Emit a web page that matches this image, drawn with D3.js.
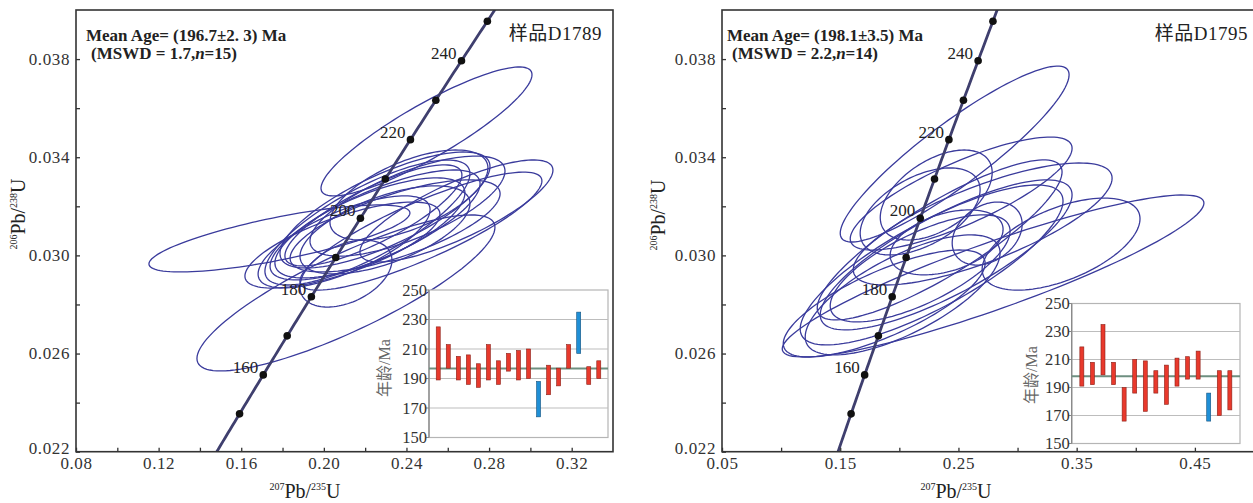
<!DOCTYPE html>
<html><head><meta charset="utf-8">
<script src="https://cdn.jsdelivr.net/npm/d3@7"></script>
<style>body{margin:0;background:#fff;} svg{display:block}</style>
</head><body>
<svg id="c" width="1253" height="503"></svg>
<script>
// ---------- DATA ----------
const lambda238 = 1.55125e-4, lambda235 = 9.8485e-4; // decay constants per Ma
const concordiaMarkerAges = [150,160,170,180,190,200,210,220,230,240,250];
const concordiaLabelAges = [160,180,200,220,240];

const xTicksD1789 = [0.08,0.10,0.12,0.14,0.16,0.18,0.20,0.22,0.24,0.26,0.28,0.30,0.32];
const xLabelsD1789 = [0.08,0.12,0.16,0.20,0.24,0.28,0.32];
const xTicksD1795 = [0.05,0.10,0.15,0.20,0.25,0.30,0.35,0.40,0.45];
const xLabelsD1795 = [0.05,0.15,0.25,0.35,0.45];
const yTicks = [0.022,0.024,0.026,0.028,0.030,0.032,0.034,0.036,0.038];
const yLabels = [0.022,0.026,0.030,0.034,0.038];
const insetTicks = [150,170,190,210,230,250];

// [207Pb/235U, half-width, 206Pb/238U, half-height, rho]
const ellipsesD1789 = [
  [0.2497,0.05108,0.03505,0.002628,0.88],
  [0.1785,0.06318,0.03069,0.001365,0.76],
  [0.2107,0.07214,0.02847,0.003179,0.84],
  [0.2107,0.02227,0.02926,0.001365,0.40],
  [0.2642,0.04672,0.03181,0.002078,0.80],
  [0.2470,0.05858,0.03099,0.002404,0.85],
  [0.2211,0.04963,0.03134,0.002547,0.78],
  [0.2248,0.05084,0.03124,0.002241,0.75],
  [0.2223,0.04600,0.03112,0.002038,0.70],
  [0.2296,0.05084,0.03185,0.002364,0.75],
  [0.2345,0.05084,0.03120,0.001875,0.70],
  [0.2296,0.04115,0.03104,0.001793,0.60],
  [0.2098,0.04164,0.03055,0.001875,0.70],
  [0.2240,0.04285,0.03163,0.002058,0.80],
  [0.2090,0.04721,0.03042,0.001752,0.72],
  [0.2405,0.04721,0.03201,0.002038,0.70],
  [0.2412,0.03825,0.03246,0.001834,0.60]
];
const ellipsesD1795 = [
  [0.2468,0.09679,0.03413,0.003586,0.90],
  [0.2793,0.17836,0.02916,0.003301,0.90],
  [0.3368,0.06678,0.03046,0.001875,0.55],
  [0.2523,0.09383,0.03252,0.002302,0.80],
  [0.2705,0.10947,0.03128,0.002486,0.75],
  [0.2341,0.10355,0.03063,0.003260,0.85],
  [0.2396,0.10651,0.03002,0.003056,0.80],
  [0.2273,0.11116,0.02961,0.003260,0.80],
  [0.2743,0.02959,0.03089,0.001284,0.30],
  [0.2400,0.04776,0.03053,0.001324,0.40],
  [0.2312,0.04734,0.03246,0.001834,0.50],
  [0.2176,0.05072,0.03179,0.001773,0.50],
  [0.1872,0.08538,0.02804,0.002180,0.75],
  [0.2028,0.08242,0.02839,0.002445,0.70],
  [0.2176,0.07608,0.02947,0.002180,0.70]
];

// spot ages [low, high, used(1)/rejected(0)]
const spotAgesD1789 = [[189,225,1],[197,213,1],[189,205,1],[186,206,1],[184,200,1],[189,213,1],
  [186,202,1],[195,207,1],[189,209,1],[190,210,1],[164,188,0],[179,199,1],[185,197,1],[197,213,1],
  [207,235,0],[186,198,1],[190,202,1]];
const spotAgesD1795 = [[191,219,1],[192,208,1],[199,235,1],[192,208,1],[166,190,1],[186,210,1],
  [173,209,1],[186,202,1],[178,206,1],[191,211,1],[196,212,1],[196,216,1],[166,186,0],[170,202,1],[174,202,1]];
const meanAgeD1789 = 196.7, meanAgeD1795 = 198.1;

const titleD1789 = ["Mean Age= (196.7\u00b12. 3) Ma", "1.7", "15", "样品D1789"];
const titleD1795 = ["Mean Age= (198.1\u00b13.5) Ma", "2.2", "14", "样品D1795"];

// ---------- DRAW ----------
const svg = d3.select("#c");
const SERIF = "'Liberation Serif','Times New Roman','Noto Sans CJK SC',serif";
const ELL = "#3a3b9c", CONC = "#3f3f6e";

function concordia(t){ return [Math.exp(lambda235*t)-1, Math.exp(lambda238*t)-1]; }

function panel(o){
  const x = d3.scaleLinear(o.xd, o.xr), y = d3.scaleLinear([0.022,0.040],[451.7,10]);
  const g = svg.append("g");
  const cid = "clip"+o.id;
  svg.append("clipPath").attr("id",cid).append("rect")
    .attr("x",o.xr[0]).attr("y",10).attr("width",o.xr[1]-o.xr[0]).attr("height",441.7);
  const pg = g.append("g").attr("clip-path",`url(#${cid})`);
  // ellipses
  const line = d3.line().curve(d3.curveLinearClosed);
  o.ells.forEach(e=>{
    const [cx,sx,cy,sy,r]=e, q=Math.sqrt(1-r*r);
    const pts = d3.range(0,120).map(i=>{const t=i/120*2*Math.PI;
      return [x(cx+sx*Math.cos(t)), y(cy+sy*(r*Math.cos(t)+q*Math.sin(t)))];});
    pg.append("path").attr("d",line(pts)).attr("fill","none").attr("stroke",ELL).attr("stroke-width",1.3);
  });
  // concordia
  const cpts = d3.range(120,262,1).map(t=>{const c=concordia(t);return [x(c[0]),y(c[1])];});
  pg.append("path").attr("d",d3.line()(cpts)).attr("fill","none").attr("stroke",CONC).attr("stroke-width",2.8);
  concordiaMarkerAges.forEach(t=>{const c=concordia(t);
    pg.append("circle").attr("cx",x(c[0])).attr("cy",y(c[1])).attr("r",3.8).attr("fill","#111");});
  concordiaLabelAges.forEach(t=>{const c=concordia(t);
    pg.append("text").attr("x",x(c[0])-5).attr("y",y(c[1])-2).attr("text-anchor","end")
      .attr("font-family",SERIF).attr("font-size",17).attr("fill","#222").text(t);});
  // axes
  const fx = d3.format(".2f"), fy = d3.format(".3f");
  const ax = g.append("g").attr("transform","translate(0,451.7)")
    .call(d3.axisBottom(x).tickValues(o.xt).tickSize(-4).tickPadding(5)
      .tickFormat(d=>o.xl.some(v=>Math.abs(v-d)<1e-9)?fx(d):""));
  const ay = g.append("g").attr("transform",`translate(${o.xr[0]},0)`)
    .call(d3.axisLeft(y).tickValues(yTicks).tickSize(-4).tickPadding(6)
      .tickFormat(d=>yLabels.some(v=>Math.abs(v-d)<1e-9)?fy(d):""));
  [ax,ay].forEach(a=>{a.select(".domain").remove();
    a.selectAll("line").attr("stroke","#333").attr("stroke-width",1.3);
    a.selectAll("text").attr("font-family",SERIF).attr("font-size",17).attr("fill","#333").attr("letter-spacing",0.6);});
  ay.selectAll("text").filter(d=>Math.abs(d-0.022)<1e-9).attr("dy","0.1em");
  g.append("rect").attr("x",o.xr[0]).attr("y",10).attr("width",o.xr[1]-o.xr[0]).attr("height",441.7)
    .attr("fill","none").attr("stroke","#333").attr("stroke-width",1.6);
  // axis titles
  const xt = g.append("text").attr("x",o.xlab[0]).attr("y",498).attr("text-anchor","middle")
    .attr("font-family",SERIF).attr("font-size",20).attr("fill","#222");
  xt.append("tspan").attr("font-size",10).attr("dy",-8).text("207");
  xt.append("tspan").attr("dy",8).text("Pb/");
  xt.append("tspan").attr("font-size",10).attr("dy",-8).text("235");
  xt.append("tspan").attr("dy",8).text("U");
  const yt = g.append("text").attr("transform",`translate(${o.ylab[0]},${o.ylab[1]}) rotate(-90)`).attr("text-anchor","middle")
    .attr("font-family",SERIF).attr("font-size",20).attr("fill","#222");
  yt.append("tspan").attr("font-size",10).attr("dy",-8).text("206");
  yt.append("tspan").attr("dy",8).text("Pb/");
  yt.append("tspan").attr("font-size",10).attr("dy",-8).text("238");
  yt.append("tspan").attr("dy",8).text("U");
  // annotation
  g.append("text").attr("x",o.t1[0]).attr("y",40.7).attr("font-family",SERIF).attr("font-size",17)
    .attr("font-weight","bold").attr("fill","#222").text(o.title[0]);
  const t2 = g.append("text").attr("x",o.t2[0]).attr("y",59.3).attr("font-family",SERIF).attr("font-size",17)
    .attr("font-weight","bold").attr("fill","#222");
  t2.append("tspan").text("(MSWD = "+o.title[1]+",");
  t2.append("tspan").attr("font-style","italic").text("n");
  t2.append("tspan").text("="+o.title[2]+")");
  g.append("text").attr("x",o.sx).attr("y",40).attr("text-anchor","end").attr("font-family",SERIF)
    .attr("font-size",19).attr("fill","#222").attr("letter-spacing",0.5).text(o.title[3]);
  // inset
  const ins = o.inset, iy = d3.scaleLinear([150,250],[ins.b,ins.t]);
  const ix = d3.scalePoint(d3.range(o.ages.length),[ins.l,ins.r]).padding(ins.p);
  const ig = g.append("g");
  ig.append("rect").attr("x",ins.l).attr("y",ins.t).attr("width",ins.r-ins.l).attr("height",ins.b-ins.t)
    .attr("fill","#fff").attr("stroke","#b5b5b5").attr("stroke-width",1.2);
  [170,190,210,230].forEach(v=>ig.append("line").attr("x1",ins.l).attr("x2",ins.r).attr("y1",iy(v)).attr("y2",iy(v))
    .attr("stroke","#bdbdbd").attr("stroke-width",1));
  ig.append("line").attr("x1",ins.l).attr("x2",ins.l).attr("y1",ins.t).attr("y2",ins.b).attr("stroke","#888").attr("stroke-width",1.3);
  insetTicks.forEach(v=>{
    ig.append("line").attr("x1",ins.l-3).attr("x2",ins.l).attr("y1",iy(v)).attr("y2",iy(v)).attr("stroke","#888");
    ig.append("text").attr("x",ins.l-2).attr("y",iy(v)).attr("dy","0.35em").attr("text-anchor","end")
      .attr("font-family",SERIF).attr("font-size",16.5).attr("fill","#333").text(v);
  });
  ig.append("line").attr("x1",ins.l).attr("x2",ins.r).attr("y1",iy(o.mean)).attr("y2",iy(o.mean))
    .attr("stroke","#6e8f80").attr("stroke-width",2);
  o.ages.forEach((a,i)=>{
    ig.append("rect").attr("x",ix(i)-2).attr("width",4).attr("y",iy(a[1])).attr("height",iy(a[0])-iy(a[1]))
      .attr("fill",a[2]?"#e8392c":"#1f8fd6").attr("stroke",a[2]?"#8a2018":"#14527f").attr("stroke-width",0.6);
  });
  ig.append("text").attr("transform",`translate(${ins.lab[0]},${ins.lab[1]}) rotate(-90)`).attr("text-anchor","middle")
    .attr("font-family",SERIF).attr("font-size",16).attr("fill","#666").text("年龄/Ma");
}

panel({id:"L", xd:[0.08,0.34], xr:[76,613], ells:ellipsesD1789, xt:xTicksD1789, xl:xLabelsD1789,
  xlab:[305], ylab:[25,214], t1:[86], t2:[91], sx:602, title:titleD1789,
  inset:{l:429,r:608,t:290,b:437.5,p:0.92,lab:[390,368]}, ages:spotAgesD1789, mean:meanAgeD1789});
panel({id:"R", xd:[0.05,0.50], xr:[722,1254], ells:ellipsesD1795, xt:xTicksD1795, xl:xLabelsD1795,
  xlab:[956], ylab:[665,215], t1:[727], t2:[732], sx:1248, title:titleD1795,
  inset:{l:1071.7,r:1240,t:303.5,b:443.5,p:0.96,lab:[1037,375]}, ages:spotAgesD1795, mean:meanAgeD1795});
</script>
</body></html>
